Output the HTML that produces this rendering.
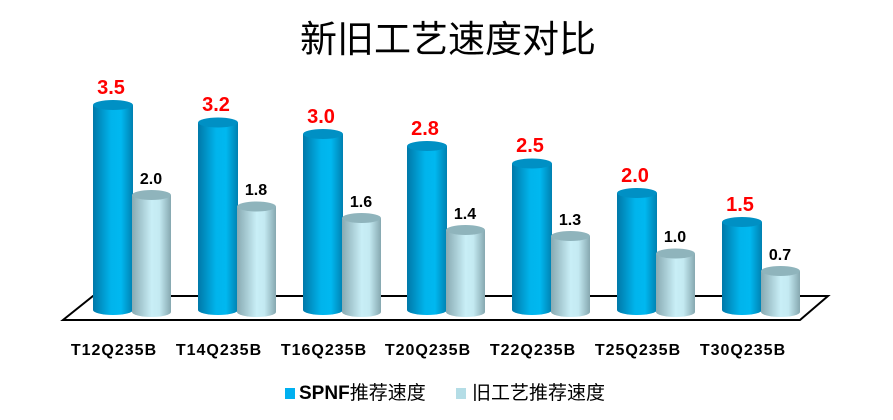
<!DOCTYPE html>
<html><head><meta charset="utf-8"><style>
body{margin:0;background:#fff;}
svg{display:block;font-family:"Liberation Sans","Noto Sans CJK SC",sans-serif;}
</style></head><body>
<svg width="893" height="420" viewBox="0 0 893 420">
<defs>
<linearGradient id="gb" x1="0" x2="1" y1="0" y2="0">
<stop offset="0" stop-color="#0078a8"/><stop offset="0.45" stop-color="#00b4ec"/><stop offset="0.7" stop-color="#00b8f0"/><stop offset="1" stop-color="#0080b0"/></linearGradient>
<linearGradient id="gl" x1="0" x2="1" y1="0" y2="0">
<stop offset="0" stop-color="#88aab2"/><stop offset="0.5" stop-color="#c8eef6"/><stop offset="0.7" stop-color="#c4eaf2"/><stop offset="1" stop-color="#86a8b0"/></linearGradient>
</defs>
<text x="448" y="52" font-size="37" text-anchor="middle" font-family="'Noto Sans CJK SC',sans-serif">新旧工艺速度对比</text>
<polygon points="93,296 828,296 800,320 63,320" fill="#fff" stroke="#000" stroke-width="2"/>

<g fill="url(#gb)">
<path d="M93,105 L93,310 A20,5 0 0 0 133,310 L133,105 Z"/>
<path d="M198,122.5 L198,310 A20,5 0 0 0 238,310 L238,122.5 Z"/>
<path d="M303,134 L303,310 A20,5 0 0 0 343,310 L343,134 Z"/>
<path d="M407,146 L407,310 A20,5 0 0 0 447,310 L447,146 Z"/>
<path d="M512,163.5 L512,310 A20,5 0 0 0 552,310 L552,163.5 Z"/>
<path d="M617,193 L617,310 A20,5 0 0 0 657,310 L657,193 Z"/>
<path d="M722,222 L722,310 A20,5 0 0 0 762,310 L762,222 Z"/>
</g>
<g fill="#0090c4">
<ellipse cx="113" cy="105" rx="20" ry="5"/>
<ellipse cx="218" cy="122.5" rx="20" ry="5"/>
<ellipse cx="323" cy="134" rx="20" ry="5"/>
<ellipse cx="427" cy="146" rx="20" ry="5"/>
<ellipse cx="532" cy="163.5" rx="20" ry="5"/>
<ellipse cx="637" cy="193" rx="20" ry="5"/>
<ellipse cx="742" cy="222" rx="20" ry="5"/>
</g>
<g fill="url(#gl)">
<path d="M132,195 L132,312 A19.5,5 0 0 0 171,312 L171,195 Z"/>
<path d="M237,206.5 L237,312 A19.5,5 0 0 0 276,312 L276,206.5 Z"/>
<path d="M342,218 L342,312 A19.5,5 0 0 0 381,312 L381,218 Z"/>
<path d="M446,230 L446,312 A19.5,5 0 0 0 485,312 L485,230 Z"/>
<path d="M551,236 L551,312 A19.5,5 0 0 0 590,312 L590,236 Z"/>
<path d="M656,253.5 L656,312 A19.5,5 0 0 0 695,312 L695,253.5 Z"/>
<path d="M761,271 L761,312 A19.5,5 0 0 0 800,312 L800,271 Z"/>
</g>
<g fill="#8fb4bc">
<ellipse cx="151.5" cy="195" rx="19.5" ry="5"/>
<ellipse cx="256.5" cy="206.5" rx="19.5" ry="5"/>
<ellipse cx="361.5" cy="218" rx="19.5" ry="5"/>
<ellipse cx="465.5" cy="230" rx="19.5" ry="5"/>
<ellipse cx="570.5" cy="236" rx="19.5" ry="5"/>
<ellipse cx="675.5" cy="253.5" rx="19.5" ry="5"/>
<ellipse cx="780.5" cy="271" rx="19.5" ry="5"/>
</g>

<g font-size="20" font-weight="bold" fill="#ff0000" text-anchor="middle">
<text x="111" y="94">3.5</text>
<text x="216" y="111">3.2</text>
<text x="321" y="123">3.0</text>
<text x="425" y="135">2.8</text>
<text x="530" y="152">2.5</text>
<text x="635" y="182">2.0</text>
<text x="740" y="211">1.5</text>
</g>
<g font-size="16" font-weight="bold" fill="#000" text-anchor="middle">
<text x="151" y="184">2.0</text>
<text x="256" y="195">1.8</text>
<text x="361" y="207">1.6</text>
<text x="465" y="219">1.4</text>
<text x="570" y="225">1.3</text>
<text x="675" y="242">1.0</text>
<text x="780" y="260">0.7</text>
</g>
<g font-size="16" font-weight="bold" fill="#000" text-anchor="middle" letter-spacing="1">
<text x="114" y="355">T12Q235B</text>
<text x="219" y="355">T14Q235B</text>
<text x="324" y="355">T16Q235B</text>
<text x="428" y="355">T20Q235B</text>
<text x="533" y="355">T22Q235B</text>
<text x="638" y="355">T25Q235B</text>
<text x="743" y="355">T30Q235B</text>
</g>

<rect x="285" y="388" width="10" height="11" fill="#00b0f0"/>
<text x="299" y="399" font-size="19" font-weight="bold">SPNF<tspan font-weight="normal">推荐速度</tspan></text>
<rect x="456" y="388" width="10" height="11" fill="#b4dde6"/>
<text x="472" y="399" font-size="19">旧工艺推荐速度</text>
</svg>
</body></html>
